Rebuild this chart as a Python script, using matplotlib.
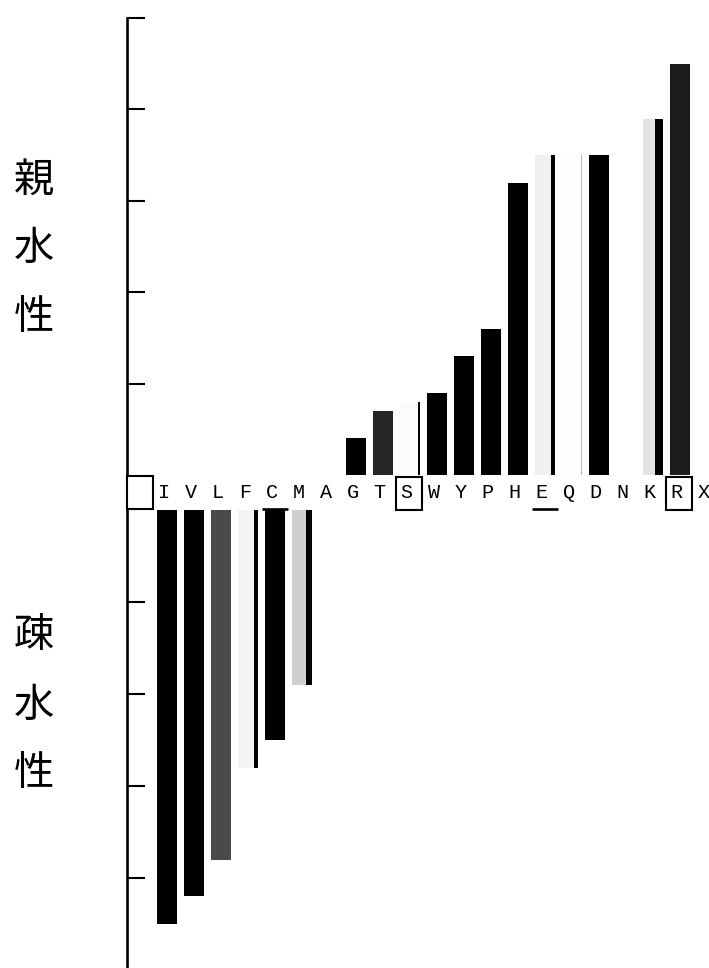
import matplotlib
matplotlib.use("Agg")
import matplotlib.pyplot as plt
from matplotlib.patches import Rectangle

# ---- data (Kyte-Doolittle hydropathy as drawn) ----
residues = ["I", "V", "L", "F", "C", "M", "A", "G", "T", "S",
            "W", "Y", "P", "H", "E", "Q", "D", "N", "K", "R"]
hydropathy = [4.5, 4.2, 3.8, 2.8, 2.5, 1.9, 1.8, -0.4, -0.7, -0.8,
              -0.9, -1.3, -1.6, -3.2, -3.5, -3.5, -3.5, -3.5, -3.9, -4.5]
row_labels = residues + ["X"]
boxed = ["S", "R"]
underlined = ["C", "E"]

# bar styles (face colour, right-edge shadow width in bar units, shadow colour)
face_colors = ["#000000", "#000000", "#4a4a4a", "#f3f3f3", "#000000", "#cfcfcf",
               "#ffffff", "#000000", "#262626", "#fbfbfb", "#000000", "#000000",
               "#000000", "#000000", "#f0f0f0", "#fdfdfd", "#000000", "#ffffff",
               "#e4e4e4", "#1c1c1c"]
edge_w = [0, 0, 0, 0.15, 0, 0.22, 0, 0, 0, 0.08, 0, 0, 0, 0, 0.15, 0.04, 0, 0,
          0.30, 0]
edge_c = ["#000000"] * 15 + ["#bbbbbb"] + ["#000000"] * 4

W_PX, H_PX = 709, 968
fig = plt.figure(figsize=(W_PX / 100, H_PX / 100), dpi=100)

x0 = (127 - 167) / 27
x1 = (709 - 167) / 27
left = 127 / W_PX
width = (709 - 127) / W_PX

ax_up = fig.add_axes([left, (H_PX - 475) / H_PX, width, 457 / H_PX])
ax_dn = fig.add_axes([left, 0.0, width, (H_PX - 510) / H_PX])

bar_w = 0.72
for i, (r, v) in enumerate(zip(residues, hydropathy)):
    ax = ax_dn if v > 0 else ax_up
    h = -v
    ax.bar(i, h, width=bar_w, color=face_colors[i], edgecolor="none", zorder=2)
    if edge_w[i] > 0:
        ew = edge_w[i]
        ax.bar(i + bar_w / 2 - ew / 2, h, width=ew, color=edge_c[i],
               edgecolor="none", zorder=3)

for ax in (ax_up, ax_dn):
    ax.set_xlim(x0, x1)
    for s in ("top", "right", "bottom"):
        ax.spines[s].set_visible(False)
    ax.spines["left"].set_linewidth(1.9)
    ax.set_xticks([])
    ax.tick_params(axis="y", direction="in", length=13, width=1.5,
                   labelleft=False)
    ax.patch.set_alpha(0)

ax_up.set_ylim(0, 5)
ax_up.set_yticks([1, 2, 3, 4, 5])
ax_dn.set_ylim(-(H_PX - 510) / 92, 0)
ax_dn.set_yticks([-1, -2, -3, -4])

# residue letter row
y_txt = -(493 - 475) / 91.4
for i, lab in enumerate(row_labels):
    ax_up.text(i - 0.12, y_txt, lab, ha="center", va="center",
               fontsize=14.5, family="Liberation Mono", color="black",
               clip_on=False)

box_top, box_bot = -0.012, -0.37
# empty frame to the left of I
ax_up.add_patch(Rectangle((-1 - 0.48, box_bot), 0.96, box_top - box_bot,
                          fill=False, lw=1.5, ec="black", clip_on=False))
for lab in boxed:
    i = row_labels.index(lab)
    ax_up.add_patch(Rectangle((i - 0.04 - 0.48, box_bot - 0.01), 0.96,
                              box_top - box_bot, fill=False, lw=1.5,
                              ec="black", clip_on=False))
for lab in underlined:
    i = row_labels.index(lab)
    ax_up.plot([i - 0.48, i + 0.48], [-0.367, -0.367], color="black",
               lw=1.9, clip_on=False, solid_capstyle="butt")

jp_font = ["Noto Sans CJK JP", "DejaVu Sans"]
for ch, yp in zip("親水性", [180, 248, 317]):
    fig.text(34 / W_PX, 1 - yp / H_PX, ch, ha="center", va="center",
             fontsize=29, family=jp_font)
for ch, yp in zip("疎水性", [636, 705, 773]):
    fig.text(34 / W_PX, 1 - yp / H_PX, ch, ha="center", va="center",
             fontsize=29, family=jp_font)

fig.savefig("out.png", dpi=100)
